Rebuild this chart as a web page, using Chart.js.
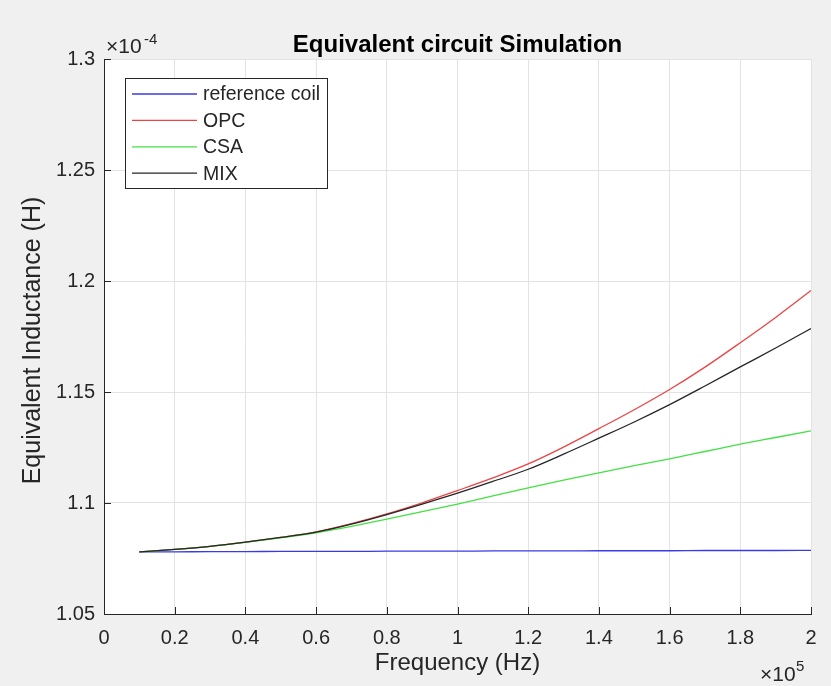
<!DOCTYPE html>
<html>
<head>
<meta charset="utf-8">
<script src="https://cdn.jsdelivr.net/npm/chart.js@4.4.1/dist/chart.umd.min.js"></script>
<style>
  html, body { margin: 0; padding: 0; background: #f0f0f0; }
  #wrap { width: 831px; height: 686px; }
</style>
</head>
<body>
<div id="wrap"><canvas id="c" width="831" height="686"></canvas></div>
<script>
// Frequency in units of 1e5 Hz, inductance in units of 1e-4 H
const freq    = [0.1, 0.2, 0.3, 0.4, 0.5, 0.6, 0.7, 0.8, 0.9, 1.0, 1.1, 1.2, 1.3, 1.4, 1.5, 1.6, 1.7, 1.8, 1.9, 2.0];
const refCoil = [1.0780, 1.0780, 1.0781, 1.0781, 1.0782, 1.0782, 1.0782, 1.0783, 1.0783, 1.0783, 1.0784, 1.0784, 1.0784, 1.0785, 1.0785, 1.0785, 1.0786, 1.0786, 1.0786, 1.0787];
const opc     = [1.0780, 1.0791, 1.0805, 1.0824, 1.0845, 1.0870, 1.0907, 1.0951, 1.1001, 1.1056, 1.1113, 1.1176, 1.1252, 1.1335, 1.1420, 1.1511, 1.1612, 1.1722, 1.1836, 1.1957];
const csa     = [1.0780, 1.0791, 1.0805, 1.0823, 1.0843, 1.0866, 1.0895, 1.0927, 1.0961, 1.0995, 1.1032, 1.1068, 1.1103, 1.1136, 1.1168, 1.1199, 1.1232, 1.1265, 1.1295, 1.1325];
const mix     = [1.0780, 1.0791, 1.0805, 1.0824, 1.0845, 1.0869, 1.0905, 1.0948, 1.0995, 1.1044, 1.1097, 1.1152, 1.1220, 1.1292, 1.1365, 1.1443, 1.1527, 1.1613, 1.1698, 1.1786];
const seriesNames = ['reference coil', 'OPC', 'CSA', 'MIX'];
const xTicks = [0, 0.2, 0.4, 0.6, 0.8, 1, 1.2, 1.4, 1.6, 1.8, 2];
const yTicks = [1.05, 1.1, 1.15, 1.2, 1.25, 1.3];

const colors = ['#3a3ae6', '#ec4444', '#44e044', '#262626'];
const FONT = '"Liberation Sans", Arial, Helvetica, sans-serif';
const AX = '#262626';

function pts(ys) { return freq.map((f, i) => ({ x: f, y: ys[i] })); }
const allSeries = [refCoil, opc, csa, mix];
const orders = [4, 3, 2, 1];

const datasets = allSeries.map((s, i) => ({
  label: seriesNames[i],
  data: pts(s),
  borderColor: colors[i],
  backgroundColor: colors[i],
  borderWidth: 1.3,
  pointRadius: 0,
  cubicInterpolationMode: 'monotone',
  fill: false,
  order: orders[i]
}));

function fmt(v) { return String(parseFloat(v.toFixed(2))); }

const decor = {
  id: 'decor',
  beforeDraw(chart) {
    const { ctx, chartArea: a } = chart;
    ctx.save();
    ctx.fillStyle = '#f0f0f0';
    ctx.fillRect(0, 0, chart.width, chart.height);
    ctx.fillStyle = '#ffffff';
    ctx.fillRect(a.left, a.top, a.right - a.left, a.bottom - a.top);
    ctx.restore();
  },
  afterDraw(chart) {
    const { ctx, chartArea: a, scales } = chart;
    const xs = scales.x, ys = scales.y;
    ctx.save();
    // inward tick marks
    ctx.strokeStyle = AX;
    ctx.lineWidth = 1;
    ctx.beginPath();
    xTicks.forEach(v => {
      const px = Math.round(xs.getPixelForValue(v)) + 0.5;
      ctx.moveTo(px, a.bottom); ctx.lineTo(px, a.bottom - 7);
    });
    yTicks.forEach(v => {
      const py = Math.round(ys.getPixelForValue(v)) + 0.5;
      ctx.moveTo(a.left, py); ctx.lineTo(a.left + 7, py);
    });
    ctx.stroke();

    ctx.fillStyle = '#000000';
    // title
    ctx.font = 'bold 24px ' + FONT;
    ctx.textAlign = 'center';
    ctx.textBaseline = 'alphabetic';
    ctx.fillText('Equivalent circuit Simulation', (a.left + a.right) / 2, 52);

    // axis titles
    ctx.fillStyle = AX;
    ctx.font = '24px ' + FONT;
    ctx.fillText('Frequency (Hz)', (a.left + a.right) / 2, 670);
    ctx.save();
    ctx.translate(33, (a.top + a.bottom) / 2 + 4);
    ctx.rotate(-Math.PI / 2);
    ctx.textBaseline = 'middle';
    ctx.font = '25px ' + FONT;
    ctx.fillText('Equivalent Inductance (H)', 0, 0);
    ctx.restore();

    // exponent labels
    ctx.textAlign = 'left';
    ctx.textBaseline = 'alphabetic';
    ctx.font = '21px ' + FONT;
    ctx.fillText('\u00d710', 106, 53);
    ctx.font = '15px ' + FONT;
    ctx.fillText('-4', 144, 44);
    ctx.font = '21px ' + FONT;
    ctx.fillText('\u00d710', 760, 681);
    ctx.font = '15px ' + FONT;
    ctx.fillText('5', 796, 671);

    // legend
    const lx = 125, ly = 78, lw = 202, lh = 110;
    ctx.fillStyle = '#ffffff';
    ctx.fillRect(lx, ly, lw, lh);
    ctx.strokeStyle = '#262626';
    ctx.lineWidth = 1;
    ctx.strokeRect(lx + 0.5, ly + 0.5, lw, lh);
    ctx.font = '19.5px ' + FONT;
    ctx.textBaseline = 'middle';
    seriesNames.forEach((n, i) => {
      const y = 94 + i * 26.4;
      ctx.strokeStyle = colors[i];
      ctx.lineWidth = 1.3;
      ctx.beginPath();
      ctx.moveTo(132, y); ctx.lineTo(197, y);
      ctx.stroke();
      ctx.fillStyle = AX;
      ctx.fillText(n, 203, y + 1);
    });
    ctx.restore();
  }
};

new Chart(document.getElementById('c'), {
  type: 'line',
  data: { datasets },
  options: {
    responsive: false,
    animation: false,
    layout: { padding: { top: 59, right: 20, left: 0, bottom: 0 } },
    plugins: { legend: { display: false }, tooltip: { enabled: false }, title: { display: false } },
    scales: {
      x: {
        type: 'linear',
        min: 0, max: 2,
        afterBuildTicks(scale) { scale.ticks = xTicks.map(v => ({ value: v })); },
        afterFit(scale) { scale.height = 72; },
        ticks: {
          callback: v => fmt(v),
          font: { size: 20, family: FONT },
          color: AX,
          padding: 12,
          maxRotation: 0,
          autoSkip: false
        },
        grid: { color: '#e3e3e3', drawTicks: false, lineWidth: 1 },
        border: { color: AX, width: 1 }
      },
      y: {
        type: 'linear',
        min: 1.05, max: 1.3,
        afterBuildTicks(scale) { scale.ticks = yTicks.map(v => ({ value: v })); },
        afterFit(scale) { scale.width = 104; },
        ticks: {
          callback: v => fmt(v),
          font: { size: 20, family: FONT },
          color: AX,
          padding: 9,
          autoSkip: false
        },
        grid: { color: '#e3e3e3', drawTicks: false, lineWidth: 1 },
        border: { color: AX, width: 1 }
      }
    }
  },
  plugins: [decor]
});
</script>
</body>
</html>
